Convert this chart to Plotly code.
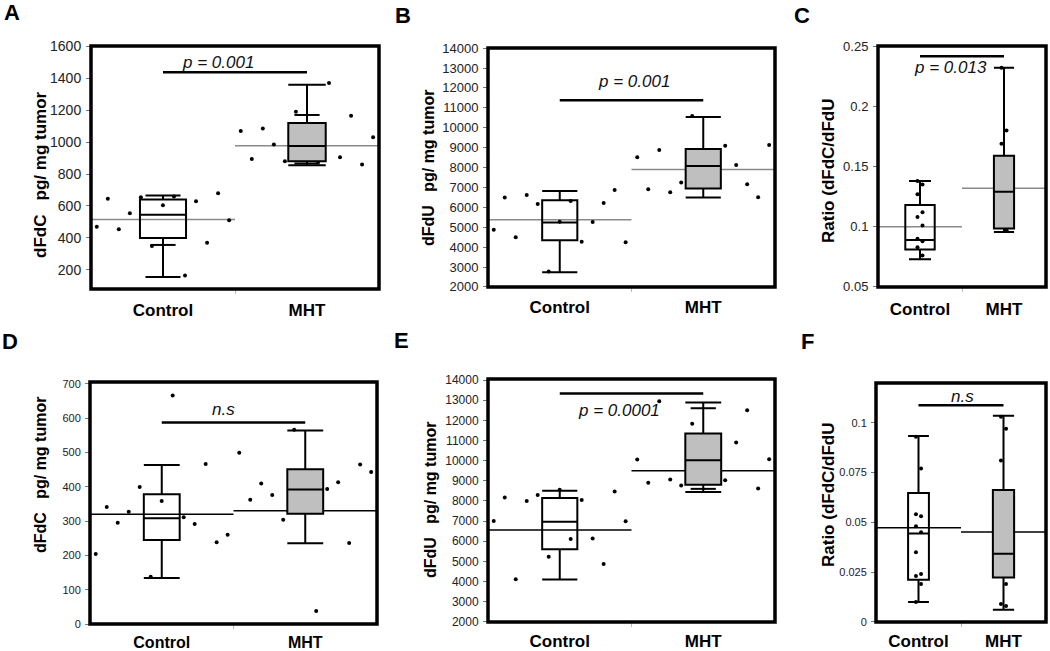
import plotly.graph_objects as go

W, H = 1050, 651
FONT = "Arial, Liberation Sans, sans-serif"

groups = ["Control", "MHT"]

# A: dFdC (pg/mg tumor)
a_control = [470, 645, 455, 555, 655, 350, 605, 660, 165, 630, 370, 680, 510]
a_mht = [1070, 895, 1085, 985, 880, 1190, None, 875, 1370, 905, 1165, 860, 1030]
a_box = [(155, 400, 545, 640, 665), (855, 880, 975, 1120, 1360)]  # lower, q1, median, q3, upper
a_mean = [515, 978]
a_marks = [[356], [1170, 866]]

# B: dFdU (pg/mg tumor)
b_control = [4870, 6490, 4490, 6620, 6170, 2780, 5270, 6320, 4270, 5260, 6220, 6870, 4250]
b_mht = [8510, 6910, 8880, 6760, 7240, 10590, None, None, 9090, 8130, 7160, 6510, 9130]
b_box = [(2730, 4350, 5230, 6350, 6820), (6490, 6950, 8070, 8930, 10540)]
b_mean = [5370, 7900]
b_marks = [[], []]

# C: ratio dFdC/dFdU
c_control = [0.138, 0.135, 0.127, 0.112, 0.108, 0.101, 0.090, 0.088, 0.083, 0.076]
c_mht = [0.232, 0.180, 0.169, 0.097]
c_box = [(0.073, 0.081, 0.089, 0.118, 0.138), (0.0955, 0.0985, 0.129, 0.159, 0.232)]
c_mean = [0.100, 0.132]
c_marks = [[], []]

# D: dFdC (pg/mg tumor)
d_control = [204, 341, 295, 327, 399, 138, 358, 666, 311, 291, 466, 238, 260]
d_mht = [499, 362, 409, 376, 304, 566, None, 38, 393, 413, 236, 465, 443]
d_box = [(134, 245, 308, 378, 463), (235, 321, 392, 451, 564)]
d_mean = [320, 330]
d_marks = [[], []]

# E: dFdU (pg/mg tumor)
e_control = [7000, 8170, 4120, 8000, 8300, 5230, 8560, 6110, 8050, 6140, 4870, 8470, 6990]
e_mht = [10060, 8900, 12950, 9060, 8770, 11830, None, None, 9030, 10900, 12500, 8620, 10070]
e_box = [(4100, 5600, 6970, 8150, 8510), (8450, 8810, 10020, 11350, 12890)]
e_mean = [6560, 9500]
e_marks = [[], [12600, 8600]]

# F: ratio dFdC/dFdU
f_control = [0.093, 0.077, 0.054, 0.053, 0.048, 0.045, 0.035, 0.024, 0.023, 0.019, 0.010]
f_mht = [0.103, 0.097, 0.081, 0.019, 0.009, 0.008]
f_box = [(0.0099, 0.0211, 0.0444, 0.0647, 0.0934), (0.006, 0.0223, 0.0342, 0.0662, 0.1036)]
f_mean = [0.0473, 0.0451]
f_marks = [[], []]

dfdc_title = "dFdC\u00a0\u00a0\u00a0pg/ mg tumor"
dfdu_title = "dFdU\u00a0\u00a0\u00a0pg/ mg tumor"
ratio_title = "Ratio (dFdC/dFdU"

panels = [
    dict(letter="A", letter_at=(12, 13), values=(a_control, a_mht), box=a_box, mean=a_mean,
         marks=a_marks, frame=(91, 379, 46, 289), yrange=[80, 1602], dtick=200, fmt="d",
         widths=(0.32, 0.26), whisk=(0.76, 1.0), tick_size=14, label_size=17, standoff=9,
         title=dfdc_title, title_at=(40, 175), title_size=17, mean_color="#8a8a8a",
         spread=True, p_y=1437, p_text="p = 0.001", p_at=(0.38, 1500)),
    dict(letter="B", letter_at=(403, 15), values=(b_control, b_mht), box=b_box, mean=b_mean,
         marks=b_marks, frame=(488, 775, 48, 287), yrange=[1995, 14005], dtick=1000, fmt="d",
         widths=(0.245, 0.245), whisk=(1.0, 1.0), tick_size=13, label_size=17, standoff=8,
         title=dfdu_title, title_at=(428, 168), title_size=16, mean_color="#8a8a8a",
         spread=True, p_y=11380, p_text="p = 0.001", p_at=(0.52, 12300)),
    dict(letter="C", letter_at=(802, 15), values=(c_control, c_mht), box=c_box, mean=c_mean,
         marks=c_marks, frame=(878, 1046, 46, 287), yrange=[0.0499, 0.2501], dtick=0.05, fmt="",
         widths=(0.35, 0.24), whisk=(0.75, 1.0), tick_size=13, label_size=17, standoff=10,
         title=ratio_title, title_at=(829, 171), title_size=17, mean_color="#8a8a8a",
         spread=False, p_y=0.2415, p_text="p = 0.013", p_at=(0.36, 0.232)),
    dict(letter="D", letter_at=(10, 341), values=(d_control, d_mht), box=d_box, mean=d_mean,
         marks=d_marks, frame=(90, 377, 382, 624), yrange=[0, 705], dtick=100, fmt="d",
         widths=(0.25, 0.25), whisk=(1.0, 1.0), tick_size=11, label_size=16, standoff=7,
         title=dfdc_title, title_at=(40, 475), title_size=16, mean_color="black",
         spread=True, p_y=587, p_text="n.s", p_at=(0.43, 626)),
    dict(letter="E", letter_at=(401, 340), values=(e_control, e_mht), box=e_box, mean=e_mean,
         marks=e_marks, frame=(488, 775, 379, 622), yrange=[1995, 14050], dtick=1000, fmt="d",
         widths=(0.245, 0.25), whisk=(1.0, 1.0), tick_size=12, label_size=17, standoff=7,
         title=dfdu_title, title_at=(430, 500), title_size=16, mean_color="black",
         spread=True, p_y=13330, p_text="p = 0.0001", p_at=(0.41, 12500)),
    dict(letter="F", letter_at=(807, 341), values=(f_control, f_mht), box=f_box, mean=f_mean,
         marks=f_marks, frame=(876, 1046, 383, 622), yrange=[-0.0001, 0.12], dtick=0.025, fmt="",
         widths=(0.245, 0.25), whisk=(1.0, 1.0), tick_size=11, label_size=17, standoff=7,
         title=ratio_title, title_at=(828, 495), title_size=17, mean_color="black",
         spread=False, p_y=0.1088, p_text="n.s", p_at=(0.52, 0.1133)),
]

fig = go.Figure()
annotations = []
shapes = []

for n, p in enumerate(panels, start=1):
    ax = "" if n == 1 else str(n)
    xref, yref = "x" + ax, "y" + ax
    left, right, top, bottom = p["frame"]

    for i, values in enumerate(p["values"]):
        # group mean, drawn across the whole category band
        fig.add_trace(go.Scatter(
            x=[i - 0.5, i + 0.5], y=[p["mean"][i]] * 2, mode="lines",
            line=dict(color=p["mean_color"], width=1.5),
            xaxis=xref, yaxis=yref, zorder=0, hoverinfo="skip",
        ))
        if p["spread"]:
            xs = [i - 0.46 + k * 0.0766 for k in range(len(values))]
        else:
            xs = [i + (0.03 if k % 2 else -0.03) for k in range(len(values))]
        fig.add_trace(go.Scatter(
            x=xs, y=values, mode="markers",
            marker=dict(color="black", size=4),
            xaxis=xref, yaxis=yref, zorder=1,
        ))
        lo, q1, med, q3, hi = p["box"][i]
        fig.add_trace(go.Box(
            x=[i], lowerfence=[lo], q1=[q1], median=[med], q3=[q3], upperfence=[hi],
            width=p["widths"][i], whiskerwidth=p["whisk"][i],
            fillcolor="rgba(0,0,0,0)" if i == 0 else "#BFBFBF",
            line=dict(color="black", width=2), boxpoints=False,
            xaxis=xref, yaxis=yref, zorder=2,
        ))
        if p["marks"][i]:
            fig.add_trace(go.Scatter(
                x=[i] * len(p["marks"][i]), y=p["marks"][i], mode="markers",
                marker=dict(symbol="line-ew", size=18, line=dict(color="black", width=2)),
                xaxis=xref, yaxis=yref, zorder=3,
            ))

    # significance bar
    fig.add_trace(go.Scatter(
        x=[0, 1], y=[p["p_y"]] * 2, mode="lines",
        line=dict(color="black", width=2.5),
        xaxis=xref, yaxis=yref, zorder=3, hoverinfo="skip",
    ))
    annotations.append(dict(
        x=p["p_at"][0], y=p["p_at"][1], xref=xref, yref=yref, text=p["p_text"],
        xanchor="center", yanchor="middle", showarrow=False,
        font=dict(family=FONT, size=17, color="#111", style="italic"),
    ))

    fig.layout["xaxis" + ax] = dict(
        domain=[left / W, right / W], range=[-0.5, 1.5], anchor=yref, automargin=False,
        tickvals=[0, 1], ticktext=groups, ticks="", ticklabelstandoff=p["standoff"],
        tickfont=dict(family=FONT, size=p["label_size"], color="black", weight="bold"),
        minor=dict(tickvals=[0.5], ticks="outside", ticklen=4, tickcolor="#bbbbbb"),
        showline=False, showgrid=False, zeroline=False, fixedrange=True,
    )
    fig.layout["yaxis" + ax] = dict(
        domain=[1 - bottom / H, 1 - top / H], range=p["yrange"], anchor=xref, automargin=False,
        tick0=0, dtick=p["dtick"], tickformat=p["fmt"], ticks="outside", ticklen=4,
        tickwidth=1, tickcolor="#777777", ticklabelstandoff=2,
        tickfont=dict(family=FONT, size=p["tick_size"], color="#222"),
        showline=False, showgrid=False, zeroline=False, fixedrange=True,
    )

    # heavy black frame round each panel
    shapes.append(dict(
        type="rect", xref=xref + " domain", yref=yref + " domain",
        x0=0, x1=1, y0=0, y1=1, line=dict(color="black", width=3.5), layer="above",
    ))

    annotations.append(dict(
        x=p["title_at"][0] / W, y=1 - p["title_at"][1] / H, xref="paper", yref="paper",
        text=p["title"], textangle=-90, xanchor="center", yanchor="middle", showarrow=False,
        font=dict(family=FONT, size=p["title_size"], color="black", weight="bold"),
    ))
    annotations.append(dict(
        x=p["letter_at"][0] / W, y=1 - p["letter_at"][1] / H, xref="paper", yref="paper",
        text=p["letter"], xanchor="center", yanchor="middle", showarrow=False,
        font=dict(family=FONT, size=22, color="black", weight="bold"),
    ))

fig.update_layout(
    width=W, height=H,
    margin=dict(l=0, r=0, t=0, b=0, autoexpand=False),
    paper_bgcolor="white", plot_bgcolor="white",
    showlegend=False, boxmode="overlay",
    annotations=annotations, shapes=shapes,
)

# the page's default body margin would push the figure 8px off the window
fig.write_html(
    "out.html",
    config={"displayModeBar": False},
    post_script="document.body.style.margin = '0';",
)
